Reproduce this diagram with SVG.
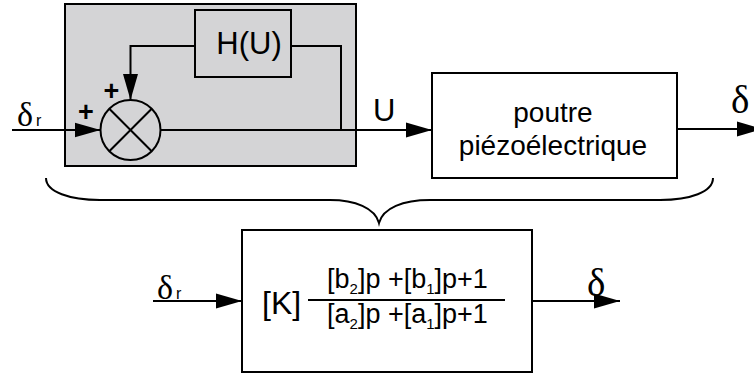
<svg xmlns="http://www.w3.org/2000/svg" width="754" height="374" viewBox="0 0 754 374">
<defs>
<marker id="arr" markerWidth="26" markerHeight="16" refX="26" refY="8" orient="auto" markerUnits="userSpaceOnUse">
<path d="M0,0.5 L26,8 L0,15.5 Z" fill="#000"/>
</marker>
<style>
.box{fill:#fff;stroke:#000;stroke-width:2}
.gray{fill:#d4d4d6;stroke:#000;stroke-width:2}
.ln{fill:none;stroke:#000;stroke-width:2}
.sans{font-family:"Liberation Sans",Arial,sans-serif;fill:#000}
.serif{font-family:"Liberation Serif","Times New Roman",serif;fill:#000}
.sub{font-size:15px}
</style>
</defs>
<rect width="754" height="374" fill="#fff"/>
<g id="controller">
<rect class="gray" x="65" y="4" width="291" height="162"/>
</g>
<g id="H">
<rect class="gray" x="195" y="10" width="96" height="67"/>
<text class="sans" x="249" y="54" font-size="31" text-anchor="middle">H(U)</text>
</g>
<g id="sum">
<circle class="ln" cx="130.5" cy="130" r="30" fill="none"/>
<line class="ln" x1="109.3" y1="108.8" x2="151.7" y2="151.2"/>
<line class="ln" x1="151.7" y1="108.8" x2="109.3" y2="151.2"/>
<text class="sans" x="86" y="121" font-size="27" font-weight="bold" text-anchor="middle">+</text>
<text class="sans" x="111.5" y="100" font-size="27" font-weight="bold" text-anchor="middle">+</text>
</g>
<g id="poutre">
<rect class="box" x="432" y="73" width="245" height="105"/>
<text class="sans" x="553" y="122" font-size="28" text-anchor="middle">poutre</text>
<text class="sans" x="553" y="155" font-size="28" text-anchor="middle">piézoélectrique</text>
</g>
<g id="transfer">
<rect class="box" x="242" y="230" width="290" height="142"/>
<text class="sans" x="262" y="314" font-size="32">[K]</text>
<text class="sans" x="327" y="288" font-size="27">[b<tspan class="sub" dy="6">2</tspan><tspan dy="-6">]p +[b</tspan><tspan class="sub" dy="6">1</tspan><tspan dy="-6">]p+1</tspan></text>
<line class="ln" x1="308" y1="300" x2="505" y2="300"/>
<text class="sans" x="327" y="323" font-size="27">[a<tspan class="sub" dy="6">2</tspan><tspan dy="-6">]p +[a</tspan><tspan class="sub" dy="6">1</tspan><tspan dy="-6">]p+1</tspan></text>
</g>
<g id="connectors">
<line class="ln" x1="12" y1="130" x2="100.5" y2="130" marker-end="url(#arr)"/>
<polyline class="ln" points="195,46 130.5,46 130.5,100" marker-end="url(#arr)"/>
<polyline class="ln" points="291,46 341,46 341,130"/>
<line class="ln" x1="160.5" y1="130" x2="432" y2="130" marker-end="url(#arr)"/>
<line class="ln" x1="677" y1="129" x2="763" y2="129" marker-end="url(#arr)"/>
<line class="ln" x1="153" y1="301" x2="242" y2="301" marker-end="url(#arr)"/>
<line class="ln" x1="532" y1="301" x2="620" y2="301" marker-end="url(#arr)"/>
<path class="ln" d="M46,178 C46,192 70,200 100,200 L330,200 C355,200 375,208 379,223 C383,208 403,200 430,200 L660,200 C690,200 713,192 713,178"/>
</g>
<g id="labels">
<text class="serif" x="17" y="126" font-size="34">δ</text>
<text class="sans" x="36" y="126" font-size="16">r</text>
<text class="sans" x="373" y="121" font-size="31">U</text>
<text class="serif" x="731" y="113" font-size="39">δ</text>
<text class="serif" x="157" y="299" font-size="34">δ</text>
<text class="sans" x="176" y="299" font-size="16">r</text>
<text class="serif" x="587" y="296" font-size="39">δ</text>
</g>
</svg>
